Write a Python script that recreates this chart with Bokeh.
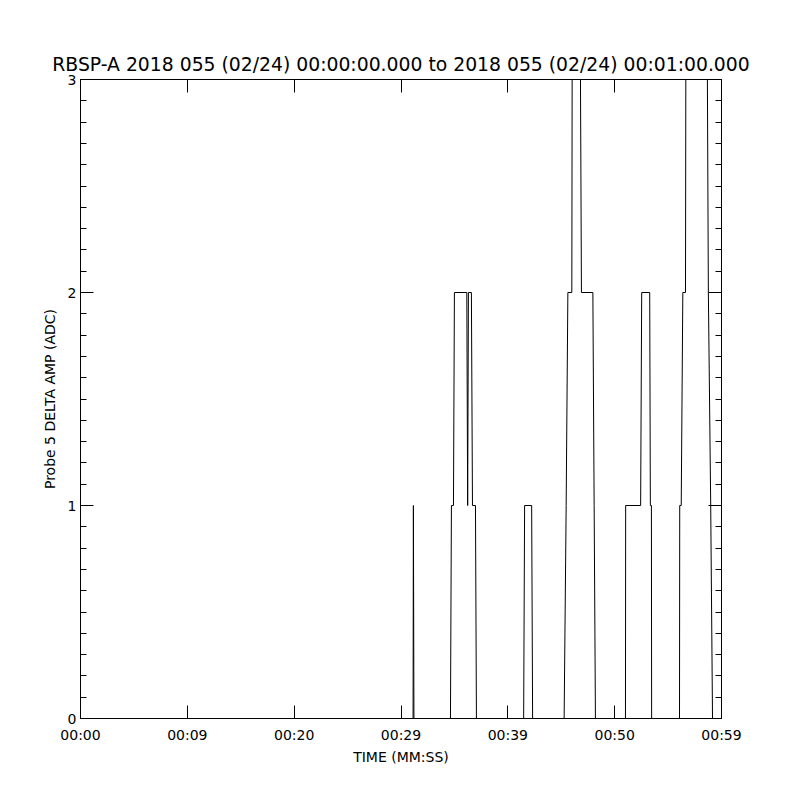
from bokeh.plotting import figure
from bokeh.models import Range1d, LinearAxis, FixedTicker, SingleIntervalTicker
from bokeh.embed import file_html
from bokeh.resources import INLINE

# ---- data (seconds after 2018-02-24 00:00:00, ADC values) ----
times = [0.0, 31.13, 31.16, 31.21,
         34.63, 34.72, 34.91, 35.00, 36.16, 36.24, 36.31, 36.59, 36.69, 36.97, 37.06,
         41.48, 41.57, 42.23, 42.32,
         45.27, 45.46, 45.62, 45.99, 46.02, 46.80, 46.89, 47.96, 48.08, 48.20,
         51.01, 51.03, 52.43, 52.53, 53.28, 53.34, 53.44, 53.46,
         56.07, 56.09, 56.23, 56.38, 56.63, 56.66, 58.68, 58.77, 58.99, 59.16, 60.0]
values = [0, 0, 1, 0,
          0, 1, 1, 2, 2, 1, 2, 2, 1, 1, 0,
          0, 1, 1, 0,
          0, 1, 2, 2, 3, 3, 2, 2, 1, 0,
          0, 1, 1, 2, 2, 1, 1, 0,
          0, 1, 1, 2, 2, 3, 3, 2, 1, 0, 0]

x_tick_values = [0, 10, 20, 30, 40, 50, 60]
x_tick_labels = ["00:00", "00:09", "00:20", "00:29", "00:39", "00:50", "00:59"]
y_tick_values = [0, 1, 2, 3]

title_text = "RBSP-A 2018 055 (02/24) 00:00:00.000 to 2018 055 (02/24) 00:01:00.000"
x_label = "TIME (MM:SS)"
y_label = "Probe 5 DELTA AMP (ADC)"

FONT = "DejaVu Sans"

p = figure(frame_width=641, frame_height=639,
           x_range=Range1d(0, 60), y_range=Range1d(0, 3),
           x_axis_type=None, y_axis_type=None,
           output_backend="svg", toolbar_location=None,
           min_border_left=80, min_border_right=70,
           min_border_top=79, min_border_bottom=72)

p.background_fill_color = "white"
p.border_fill_color = "white"
p.outline_line_color = "black"
p.outline_line_width = 1

p.title.text = title_text
p.title.align = "center"
p.title.text_font = FONT
p.title.text_font_size = "18.8px"
p.title.text_font_style = "normal"
p.title.text_color = "black"


def style_axis(ax, tick_len=13, minor_len=6):
    ax.axis_line_color = "black"
    ax.axis_line_width = 1
    ax.major_tick_line_color = "black"
    ax.minor_tick_line_color = "black"
    ax.major_tick_in = tick_len
    ax.major_tick_out = 0
    ax.minor_tick_in = minor_len
    ax.minor_tick_out = 0
    ax.major_label_text_font = FONT
    ax.major_label_text_font_size = "14px"
    ax.major_label_text_color = "black"
    ax.axis_label_text_font = FONT
    ax.axis_label_text_font_size = "14px"
    ax.axis_label_text_font_style = "normal"
    ax.axis_label_text_color = "black"


label_map = {v: s for v, s in zip(x_tick_values, x_tick_labels)}

xb = LinearAxis(ticker=FixedTicker(ticks=x_tick_values, minor_ticks=[]),
                major_label_overrides=label_map, axis_label=x_label)
style_axis(xb)
xb.major_label_standoff = 8
xb.axis_label_standoff = 3
p.add_layout(xb, "below")

xt = LinearAxis(ticker=FixedTicker(ticks=x_tick_values, minor_ticks=[]),
                major_label_overrides={v: "" for v in x_tick_values})
style_axis(xt)
xt.major_label_standoff = 0
p.add_layout(xt, "above")

yl = LinearAxis(ticker=SingleIntervalTicker(interval=1, num_minor_ticks=10),
                axis_label=y_label)
style_axis(yl)
yl.major_label_standoff = 4
yl.axis_label_standoff = 7
yl.axis_label_text_font_size = "14px"
p.add_layout(yl, "left")

yr = LinearAxis(ticker=SingleIntervalTicker(interval=1, num_minor_ticks=10),
                major_label_overrides={v: "" for v in y_tick_values})
style_axis(yr)
yr.major_label_standoff = 0
p.add_layout(yr, "right")

p.xgrid.visible = False
p.ygrid.visible = False

p.line(times, values, line_color="black", line_width=1)

open("out.html", "w").write(file_html(p, INLINE))
